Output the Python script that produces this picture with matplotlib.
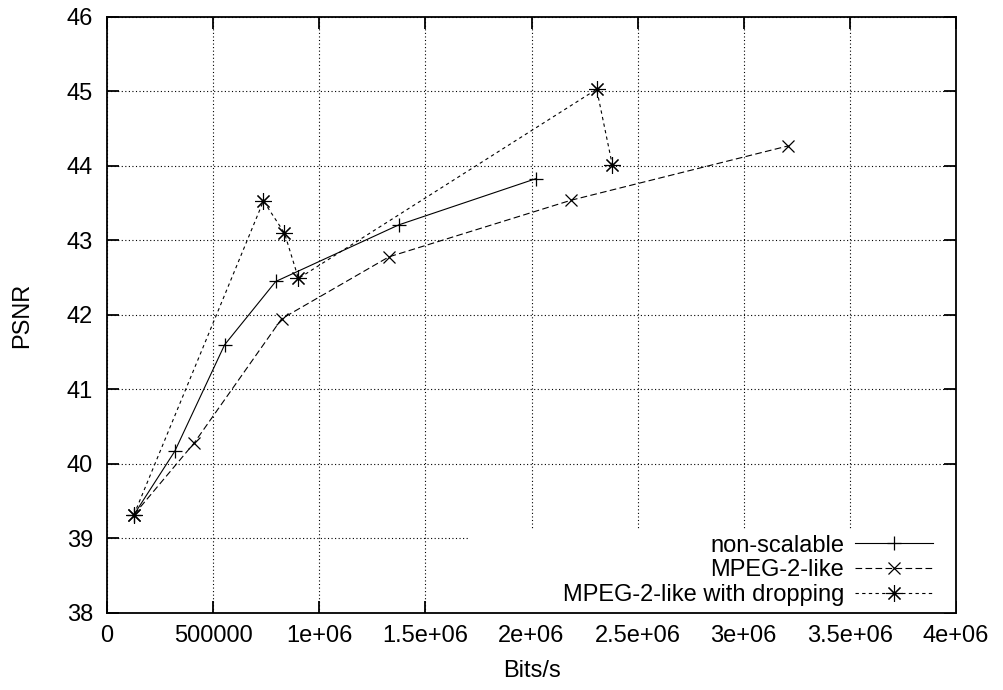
import numpy as np
import matplotlib
matplotlib.use("Agg")
import matplotlib.pyplot as plt
from matplotlib.patches import Rectangle

# rate / quality points
ns_bits = [127000, 319000, 554000, 795000, 1375000, 2021000]
ns_psnr = [39.32, 40.17, 41.60, 42.45, 43.21, 43.83]

mp_bits = [127000, 410000, 823000, 1328000, 2186000, 3210000]
mp_psnr = [39.32, 40.28, 41.95, 42.78, 43.54, 44.27]

dr_bits = [127000, 737000, 836000, 902000, 2307000, 2381000]
dr_psnr = [39.32, 43.53, 43.10, 42.49, 45.03, 44.01]

x_ticks = [0, 500000, 1000000, 1500000, 2000000, 2500000, 3000000, 3500000, 4000000]
x_tick_labels = ['0', '500000', '1e+06', '1.5e+06', '2e+06', '2.5e+06', '3e+06', '3.5e+06', '4e+06']
y_ticks = [38, 39, 40, 41, 42, 43, 44, 45, 46]

plt.rcParams['font.family'] = ['Liberation Sans', 'DejaVu Sans']
fs = 17

fig = plt.figure(figsize=(10.04, 6.9), dpi=100)
ax = fig.add_axes([0.1066, 0.1116, 0.9522 - 0.1066, 0.9754 - 0.1116])

ax.plot(ns_bits, ns_psnr, color='black', lw=0.8, ls='-',
        marker='+', ms=10, mew=0.9, label='non-scalable')
ax.plot(mp_bits, mp_psnr, color='black', lw=0.8, ls=(0, (6, 3)),
        marker='x', ms=9, mew=0.9, label='MPEG-2-like')
ax.plot(dr_bits, dr_psnr, color='black', lw=0.8, ls=(0, (3, 3)),
        marker=(8, 2, 0), ms=12, mew=0.8, label='MPEG-2-like with dropping')

ax.set_xlim(0, 4000000)
ax.set_ylim(38, 46)
ax.set_xticks(x_ticks)
ax.set_xticklabels(x_tick_labels)
ax.set_yticks(y_ticks)
ax.set_yticklabels([str(v) for v in y_ticks])

ax.grid(True, color='black', ls=(0, (1, 2.2)), lw=0.8)
ax.set_axisbelow(True)
ax.tick_params(direction='in', length=8.5, width=1.3, top=True, right=True,
               labelsize=fs, pad=10)
ax.tick_params(axis='x', pad=9)
for s in ax.spines.values():
    s.set_linewidth(1.3)

ax.set_xlabel('Bits/s', fontsize=fs, labelpad=9)
ax.set_ylabel('PSNR', fontsize=fs, labelpad=24)

# blank area behind the key (hides the grid like gnuplot does)
ax.add_patch(Rectangle((0.4276, 0.0), 0.5724, 0.139, transform=ax.transAxes,
                       facecolor='white', edgecolor='none', zorder=1))

leg = ax.legend(loc='lower right', bbox_to_anchor=(0.973, 0.012), fontsize=fs,
                markerfirst=False, frameon=False,
                handlelength=3.3, handletextpad=0.47, labelspacing=0.11,
                borderpad=0.0, borderaxespad=0.0)
for t in leg.get_texts():
    t.set_ha('right')

fig.savefig('out.png', dpi=100)
